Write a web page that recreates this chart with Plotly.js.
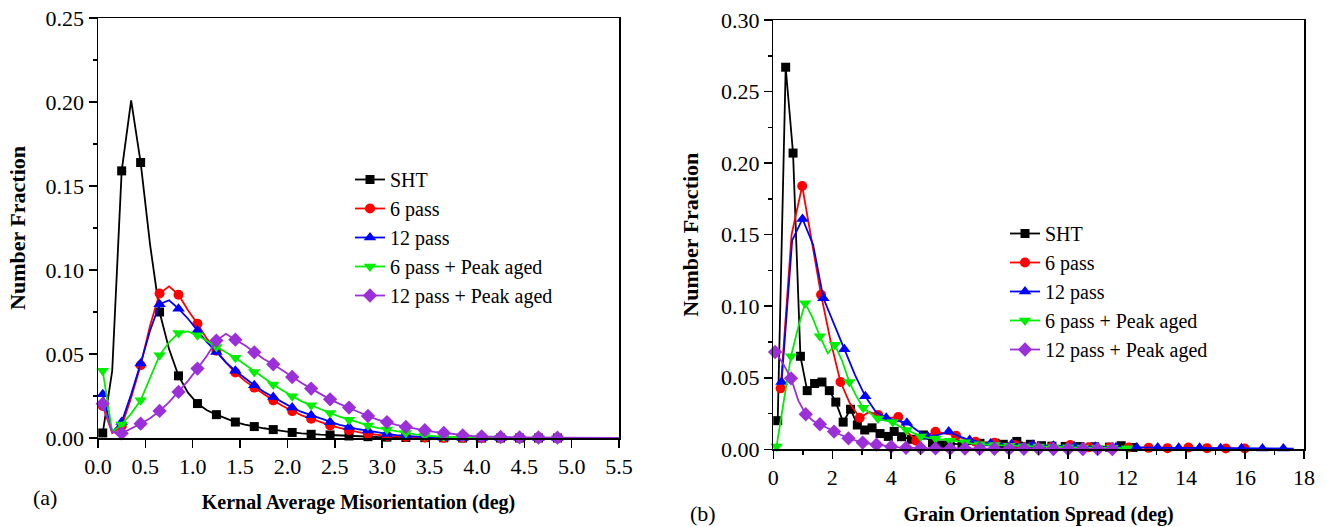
<!DOCTYPE html>
<html>
<head>
<meta charset="utf-8">
<script src="https://cdn.plot.ly/plotly-3.0.1.min.js"></script>
<style>html,body{margin:0;padding:0;background:#fff}#chart{width:1326px;height:527px}</style>
</head>
<body>
<div id="chart"></div>
<script>
// ---------- DATA ----------
const seriesNames = ["SHT", "6 pass", "12 pass", "6 pass + Peak aged", "12 pass + Peak aged"];

// (a) Kernal Average Misorientation
const kamX = [0.05,0.15,0.25,0.35,0.45,0.55,0.65,0.75,0.85,0.95,1.05,1.15,1.25,1.35,1.45,1.55,1.65,1.75,1.85,1.95,
  2.05,2.15,2.25,2.35,2.45,2.55,2.65,2.75,2.85,2.95,3.05,3.15,3.25,3.35,3.45,3.55,3.65,3.75,3.85,3.95,
  4.05,4.15,4.25,4.35,4.45,4.55,4.65,4.75,4.85,5.5];
const kamSHT = [0.003,0.040,0.159,0.201,0.164,0.115,0.075,0.053,0.037,0.027,0.0205,0.0165,0.0139,0.0115,0.0095,0.008,0.0068,0.0058,0.005,0.004,
  0.0033,0.0027,0.0022,0.002,0.0018,0.0015,0.0012,0.001,0.0008,0.0006,0.0005,0.0004,0.0003,0.0002,0.0002,0.0001,0.0001,0,0,0,
  0,0,0,0,0,0,0,0,0,0];
const kam6p = [0.019,0.003,0.007,0.024,0.0433,0.067,0.086,0.0903,0.0853,0.076,0.068,0.059,0.052,0.045,0.039,0.034,0.030,0.026,0.0224,0.019,
  0.016,0.0135,0.0115,0.0095,0.0075,0.006,0.0046,0.0035,0.0026,0.0018,0.0012,0.0009,0.0006,0.0004,0.0003,0.0002,0.0001,0,0,0,
  0,0,0,0,0,0,0,0,0,0];
const kam12p = [0.026,0.0035,0.0095,0.026,0.0443,0.064,0.0796,0.082,0.077,0.071,0.064,0.057,0.0512,0.045,0.040,0.0355,0.0314,0.0275,0.0244,0.021,
  0.0181,0.0155,0.0135,0.0115,0.0095,0.0078,0.0066,0.0052,0.0044,0.0033,0.0024,0.0017,0.0012,0.0008,0.0005,0.0003,0.0002,0.0001,0,0,
  0,0,0,0,0,0,0,0,0,0];
const kam6pAged = [0.040,0.0035,0.0081,0.0145,0.0224,0.0363,0.0492,0.057,0.0625,0.0635,0.0611,0.0577,0.0542,0.051,0.0478,0.0438,0.0393,0.0355,0.0318,0.0283,
  0.0248,0.0218,0.0195,0.017,0.0149,0.0127,0.0109,0.009,0.0075,0.006,0.005,0.0038,0.003,0.0022,0.0015,0.001,0.0007,0.0005,0.0003,0.0002,
  0.0002,0.0001,0.0001,0.0001,0.0001,0,0,0,0,0];
const kam12pAged = [0.0204,0.0035,0.0028,0.0056,0.0085,0.0118,0.0161,0.0214,0.0274,0.034,0.0413,0.049,0.058,0.062,0.0585,0.0552,0.051,0.047,0.0439,0.040,
  0.0363,0.0327,0.0294,0.026,0.023,0.0203,0.0181,0.0155,0.0131,0.011,0.0095,0.0078,0.0066,0.0054,0.0046,0.0037,0.003,0.0022,0.0016,0.0012,
  0.0009,0.0007,0.0006,0.0005,0.0004,0.0003,0.0003,0.0002,0.0002,0.0001];

// (b) Grain Orientation Spread
const gosShtX = [0.15,0.42,0.67,0.92,1.15,1.40,1.65,1.90,2.12,2.37,2.62,2.85,3.10,3.35,3.62,3.90,4.10,4.35,4.68,5.09,
  5.40,5.71,6.00,6.40,7.01,7.52,7.80,8.26,8.72,9.10,9.45,9.90,10.40,10.90,11.40,11.80,12.20];
const gosShtY = [0.020,0.267,0.207,0.065,0.041,0.046,0.047,0.041,0.033,0.019,0.028,0.017,0.0135,0.015,0.011,0.009,0.0125,0.0088,0.007,0.010,
  0.0045,0.003,0.004,0.0035,0.0042,0.0042,0.0035,0.0055,0.0035,0.0025,0.0022,0.002,0.0019,0.0018,0.0015,0.0025,0.0013];
const gos6pX = [0.25,0.62,0.98,1.30,1.62,1.95,2.28,2.60,2.93,3.25,3.56,3.90,4.24,4.55,4.85,5.17,5.50,5.85,6.20,6.53,
  6.86,7.18,7.50,7.85,8.20,8.50,8.80,9.12,9.45,9.76,10.07,10.40,10.70,11.05,11.40,11.70,12.05,12.40,12.73,13.05,
  13.37,13.70,14.08,14.40,14.71,15.03,15.35,15.67,15.99];
const gos6pY = [0.0426,0.150,0.184,0.146,0.108,0.075,0.047,0.032,0.022,0.026,0.024,0.022,0.0225,0.012,0.006,0.009,0.0123,0.011,0.0095,0.007,
  0.0053,0.005,0.0045,0.0035,0.003,0.0025,0.0022,0.002,0.0018,0.002,0.003,0.002,0.0015,0.0013,0.0012,0.0012,0.0012,0.001,0.001,0.0009,
  0.0008,0.001,0.0012,0.001,0.0008,0.0007,0.0006,0.0005,0.0005];
const gos12pX = [0.28,0.64,0.99,1.35,1.70,2.06,2.41,2.77,3.12,3.48,3.83,4.18,4.53,4.89,5.24,5.60,5.95,6.30,6.66,7.00,
  7.37,7.73,8.08,8.44,8.79,9.14,9.50,9.86,10.21,10.57,10.92,11.27,11.62,11.97,12.33,12.68,13.04,13.40,13.75,14.10,
  14.46,14.80,15.17,15.52,15.88,16.23,16.59,16.95,17.30,17.65];
const gos12pY = [0.047,0.146,0.161,0.143,0.1055,0.088,0.070,0.052,0.037,0.026,0.022,0.020,0.0185,0.013,0.009,0.010,0.0125,0.009,0.0065,0.005,
  0.004,0.004,0.0035,0.003,0.003,0.0028,0.0025,0.0022,0.002,0.002,0.0018,0.0015,0.0015,0.0013,0.0012,0.0012,0.0012,0.001,0.001,0.001,
  0.001,0.0009,0.0008,0.0008,0.0008,0.0007,0.0006,0.0006,0.0006,0.0005];
const gos6pAgedX = [0.11,0.36,0.60,0.84,1.08,1.33,1.58,1.85,2.09,2.33,2.58,2.82,3.05,3.30,3.55,3.80,4.05,4.28,4.52,4.76,
  5.00,5.25,5.50,5.75,6.00,6.25,6.50,6.75,7.00,7.25,7.50,7.75,8.00,8.25,8.50,8.75,9.00,9.25,9.50,9.75,
  10.00,10.25,10.50,10.75,11.00,11.25,11.50,11.75,12.00];
const gos6pAgedY = [0.002,0.033,0.065,0.085,0.102,0.092,0.079,0.067,0.073,0.062,0.047,0.037,0.029,0.025,0.0215,0.020,0.019,0.016,0.0135,0.011,
  0.009,0.008,0.0075,0.007,0.006,0.0055,0.005,0.004,0.0035,0.0032,0.003,0.0028,0.0025,0.0022,0.002,0.002,0.002,0.0018,0.0015,0.0015,
  0.0015,0.0013,0.0012,0.0011,0.001,0.001,0.001,0.0009,0.0008];
const gos12pAgedX = [0.06,0.33,0.60,0.85,1.10,1.34,1.58,1.82,2.06,2.30,2.55,2.80,3.03,3.27,3.50,3.75,4.00,4.25,4.50,4.75,
  5.00,5.25,5.50,5.75,6.00,6.25,6.50,6.75,7.00,7.25,7.50,7.75,8.00,8.25,8.50,8.75,9.00,9.25,9.50,9.75,
  10.00,10.25,10.50,10.75,11.00,11.25,11.50];
const gos12pAgedY = [0.068,0.060,0.0496,0.034,0.0245,0.020,0.0175,0.0148,0.0124,0.010,0.0077,0.006,0.0047,0.004,0.0032,0.0024,0.0018,0.0013,0.001,0.0009,
  0.0008,0.0007,0.0006,0.0005,0.0005,0.0005,0.0005,0.0004,0.0004,0.0004,0.0004,0.0003,0.0003,0.0003,0.0003,0.0003,0.0003,0.0002,0.0002,0.0002,
  0.0002,0.0002,0.0002,0.0002,0.0002,0.0001,0.0001];

// ---------- STYLE ----------
const colors = ["#000000", "#ff0000", "#0000ff", "#00ee00", "#9b30d9"];
const symbols = ["square", "circle", "triangle-up", "triangle-down", "diamond"];
const msizes = [9, 10, 11, 11, 11];
const FONT = "Liberation Serif";
const W = 1326, H = 527;

const traces = [];
function addSeries(x, y, i, xa, ya, legendId, markerStep) {
  const grp = legendId + "_" + i;
  traces.push({x: x, y: y, xaxis: xa, yaxis: ya, mode: "lines", type: "scatter",
    line: {color: colors[i], width: 1.8}, showlegend: false, legendgroup: grp,
    hoverinfo: "skip", cliponaxis: false});
  const mx = [], my = [];
  for (let k = 0; k < x.length; k += markerStep) { mx.push(x[k]); my.push(y[k]); }
  traces.push({x: mx, y: my, xaxis: xa, yaxis: ya, mode: "markers", type: "scatter",
    marker: {color: colors[i], symbol: symbols[i], size: msizes[i], line: {width: 0}},
    showlegend: false, legendgroup: grp, name: seriesNames[i], cliponaxis: false});
  traces.push({x: [null], y: [null], xaxis: xa, yaxis: ya, mode: "lines+markers", type: "scatter",
    name: seriesNames[i], legend: legendId, legendgroup: grp,
    line: {color: colors[i], width: 1.8},
    marker: {color: colors[i], symbol: symbols[i], size: msizes[i], line: {width: 0}}});
}

const kamY = [kamSHT, kam6p, kam12p, kam6pAged, kam12pAged];
kamY.forEach((y, i) => addSeries(kamX, y, i, "x", "y", "legend", 2));

const gosX = [gosShtX, gos6pX, gos12pX, gos6pAgedX, gos12pAgedX];
const gosY = [gosShtY, gos6pY, gos12pY, gos6pAgedY, gos12pAgedY];
gosY.forEach((y, i) => addSeries(gosX[i], y, i, "x2", "y2", "legend2", i === 0 ? 1 : 2));

const tickFont = {family: FONT, size: 22, color: "#000"};
const xTitleFont = {family: FONT, size: 20, color: "#000", weight: "bold"};
const yTitleFont = {family: FONT, size: 22, color: "#000", weight: "bold"};
const axisCommon = {
  showline: true, mirror: true, linecolor: "#000", linewidth: 1.5,
  ticks: "outside", ticklen: 8, tickwidth: 1.5, tickcolor: "#000",
  showgrid: false, zeroline: false, fixedrange: true
};
const px = v => v / W, py = v => 1 - v / H;

const layout = {
  width: W, height: H,
  margin: {l: 0, r: 0, t: 0, b: 0},
  paper_bgcolor: "#fff", plot_bgcolor: "#fff",
  font: {family: FONT, color: "#000", size: 21},
  xaxis: Object.assign({}, axisCommon, {
    domain: [px(98), px(619)], range: [0, 5.5], dtick: 0.5, tick0: 0, tickformat: ".1f",
    anchor: "y", tickfont: Object.assign({}, tickFont),
    title: {text: "Kernal Average Misorientation (deg)", font: Object.assign({}, xTitleFont), standoff: 17}
  }),
  yaxis: Object.assign({}, axisCommon, {
    domain: [py(438), py(18)], range: [0, 0.25], dtick: 0.05, tick0: 0, tickformat: ".2f",
    anchor: "x", tickfont: Object.assign({}, tickFont),
    minor: {dtick: 0.025, ticks: "outside", ticklen: 4, tickwidth: 1.5, tickcolor: "#000", showgrid: false},
    title: {text: "Number Fraction", font: Object.assign({}, yTitleFont), standoff: 14}
  }),
  xaxis2: Object.assign({}, axisCommon, {
    domain: [px(773.3), px(1304)], range: [0, 18], dtick: 2, tick0: 0,
    anchor: "y2", tickfont: Object.assign({}, tickFont),
    minor: {dtick: 1, ticks: "outside", ticklen: 4, tickwidth: 1.5, tickcolor: "#000", showgrid: false},
    title: {text: "Grain Orientation Spread (deg)", font: Object.assign({}, xTitleFont), standoff: 18}
  }),
  yaxis2: Object.assign({}, axisCommon, {
    domain: [py(449.3), py(20)], range: [0, 0.30], dtick: 0.05, tick0: 0, tickformat: ".2f",
    anchor: "x2", tickfont: Object.assign({}, tickFont),
    minor: {dtick: 0.025, ticks: "outside", ticklen: 4, tickwidth: 1.5, tickcolor: "#000", showgrid: false},
    title: {text: "Number Fraction", font: Object.assign({}, yTitleFont), standoff: 16}
  }),
  legend: {
    x: px(350), y: py(160), xanchor: "left", yanchor: "top",
    bgcolor: "rgba(0,0,0,0)", borderwidth: 0,
    font: {family: FONT, size: 20, color: "#000"}, tracegroupgap: 0, itemwidth: 30
  },
  legend2: {
    x: px(1005), y: py(214), xanchor: "left", yanchor: "top",
    bgcolor: "rgba(0,0,0,0)", borderwidth: 0,
    font: {family: FONT, size: 20, color: "#000"}, tracegroupgap: 0, itemwidth: 30
  },
  showlegend: true,
  annotations: [
    {text: "(a)", xref: "paper", yref: "paper", x: px(31), y: py(497), xanchor: "left", yanchor: "middle",
     showarrow: false, font: {family: FONT, size: 22, color: "#000"}},
    {text: "(b)", xref: "paper", yref: "paper", x: px(688), y: py(513), xanchor: "left", yanchor: "middle",
     showarrow: false, font: {family: FONT, size: 22, color: "#000"}}
  ]
};

Plotly.newPlot("chart", traces, layout, {displayModeBar: false, staticPlot: true});
</script>
</body>
</html>
